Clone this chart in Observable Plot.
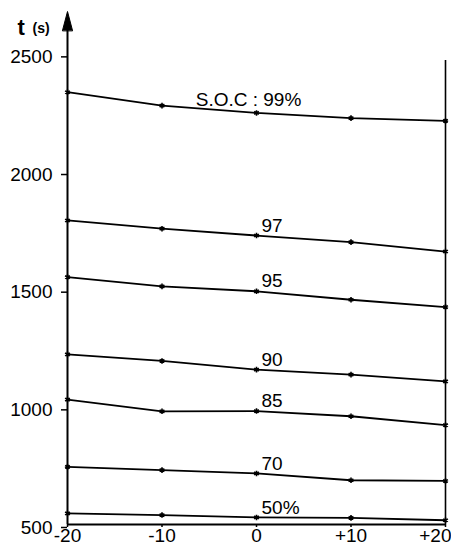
<!DOCTYPE html>
<html>
<head>
<meta charset="utf-8">
<script src="https://cdn.jsdelivr.net/npm/d3@7"></script>
<script src="https://cdn.jsdelivr.net/npm/@observablehq/plot@0.6"></script>
<style>
  html, body { margin: 0; padding: 0; background: white; }
</style>
</head>
<body>
<div id="chart"></div>
<script>
const temps = [-20, -10, 0, 10, 20];
const xTickLabels = ["-20", "-10", "0", "+10", "+20"];
const yTicks = [500, 1000, 1500, 2000, 2500];
const soc99 = [2337, 2280, 2249, 2227, 2215];
const soc97 = [1792, 1757, 1728, 1700, 1660];
const soc95 = [1551, 1512, 1491, 1455, 1424];
const soc90 = [1223, 1195, 1158, 1137, 1108];
const soc85 = [1031, 981, 982, 960, 922];
const soc70 = [745, 731, 717, 688, 685];
const soc50 = [547, 540, 530, 528, 518];
const seriesLabels = ["S.O.C : 99%", "97", "95", "90", "85", "70", "50%"];
const seriesValues = [soc99, soc97, soc95, soc90, soc85, soc70, soc50];

const yMin = 500, yMax = 2680, rightTop = 2472;

const rows = [];
seriesValues.forEach((vals, s) => {
  vals.forEach((v, i) => rows.push({series: seriesLabels[s], t: temps[i], v}));
});
const labelRows = seriesValues.map((vals, s) => ({
  series: seriesLabels[s], t: temps[2], v: vals[2], first: s === 0
}));
const xLabelRows = temps.map((t, i) => ({t, label: xTickLabels[i], last: i === temps.length - 1}));

const arrowHead = {
  draw(context, l) {
    context.moveTo(-5, 0);
    context.lineTo(0, -l);
    context.lineTo(5, 0);
    context.closePath();
  }
};

const font = "'Liberation Sans', Arial, sans-serif";

const chart = Plot.plot({
  width: 451,
  height: 548,
  marginLeft: 67,
  marginRight: 6,
  marginTop: 11,
  marginBottom: 24,
  style: {fontFamily: font, fontSize: "19px", color: "black", background: "white", overflow: "visible"},
  x: {domain: [-20, 20], label: null},
  y: {domain: [yMin, yMax], label: null},
  marks: [
    Plot.axisX({ticks: temps, tickFormat: () => "", tickSize: 3, strokeWidth: 1.5}),
    Plot.axisY({ticks: yTicks, tickFormat: d => String(d), tickSize: 6, tickPadding: 9, strokeWidth: 1.5, fontSize: 19, dy: 3}),
    Plot.text(xLabelRows.filter(d => !d.last), {x: "t", y: () => yMin, text: "label", lineAnchor: "top", dy: 4, textAnchor: "middle", fontSize: 19, fill: "black"}),
    Plot.text(xLabelRows.filter(d => d.last), {x: "t", y: () => yMin, text: "label", lineAnchor: "top", dy: 4, dx: 6, textAnchor: "end", fontSize: 19, fill: "black"}),
    Plot.ruleX([temps[0]], {y1: yMin, y2: yMax - 80, stroke: "black", strokeWidth: 2}),
    Plot.vector([{t: temps[0], v: yMax}], {x: "t", y: "v", length: 19, anchor: "end", shape: arrowHead, fill: "black", stroke: "black", strokeWidth: 1}),
    Plot.ruleX([temps[4]], {y1: yMin, y2: rightTop, stroke: "black", strokeWidth: 1.6}),
    Plot.ruleY([yMin], {x1: temps[0], x2: temps[4], stroke: "black", strokeWidth: 2}),
    Plot.line(rows, {x: "t", y: "v", z: "series", stroke: "black", strokeWidth: 1.8}),
    Plot.dot(rows, {x: "t", y: "v", symbol: "asterisk", r: 2.6, stroke: "black", strokeWidth: 1.6}),
    Plot.text(labelRows.filter(d => d.first), {x: "t", y: "v", text: "series", textAnchor: "middle", dx: -8, dy: -13, fontSize: 19, fill: "black"}),
    Plot.text(labelRows.filter(d => !d.first), {x: "t", y: "v", text: "series", textAnchor: "start", dx: 5, dy: -10, fontSize: 19, fill: "black"}),
    Plot.text(["t"], {frameAnchor: "top-left", dx: -50, dy: 8, textAnchor: "start", fontSize: 22, fontWeight: "bold", fill: "black"}),
    Plot.text(["(s)"], {frameAnchor: "top-left", dx: -35, dy: 12, textAnchor: "start", fontSize: 14, fontWeight: "bold", fill: "black"})
  ]
});
document.getElementById("chart").appendChild(chart);
</script>
</body>
</html>
